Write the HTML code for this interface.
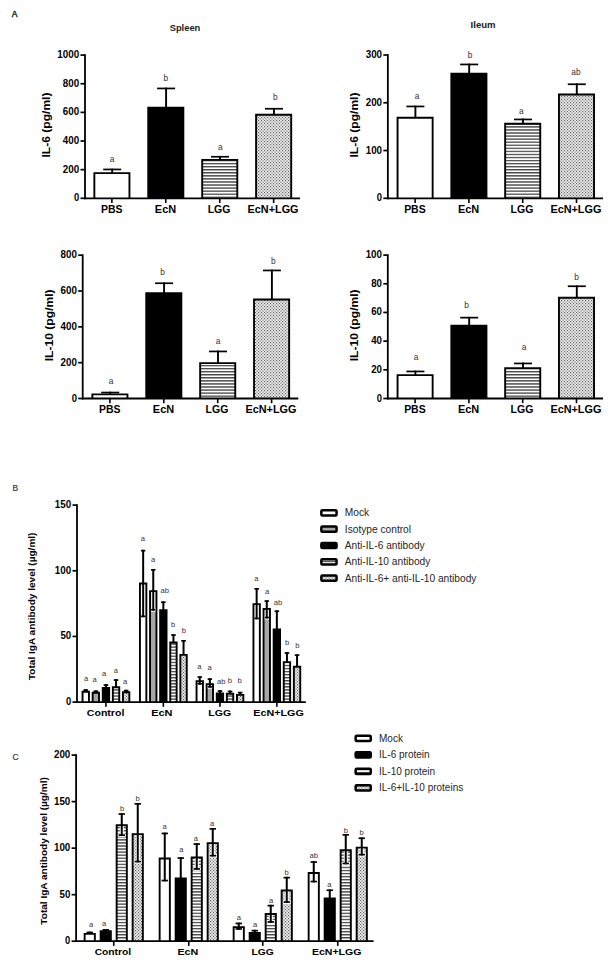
<!DOCTYPE html>
<html lang="en"><head><meta charset="utf-8"><title>Figure</title>
<style>html,body{margin:0;padding:0;background:#fff}svg{display:block}text{font-family:"Liberation Sans", Arial, sans-serif}</style>
</head><body>
<svg width="616" height="968" viewBox="0 0 616 968" font-family='"Liberation Sans", Arial, sans-serif'>
<defs>
<pattern id="stripe" width="3.06" height="3.06" patternUnits="userSpaceOnUse" y="0"><rect width="3.06" height="3.06" fill="#fff"/><rect y="0.9" width="3.06" height="1.1" fill="#222"/></pattern>
<pattern id="dots" width="3" height="3" patternUnits="userSpaceOnUse"><rect width="3" height="3" fill="#f0f0f0"/><rect x="0" y="0" width="1.15" height="1.15" fill="#5e5e5e"/><rect x="1.5" y="1.5" width="1.15" height="1.15" fill="#5e5e5e"/></pattern>
</defs>
<rect width="616" height="968" fill="#fff"/>
<text x="11.70" y="17.40" font-size="8.5" font-weight="normal" text-anchor="start" fill="#111" stroke="#111" stroke-width="0.35">A</text>
<text x="12.40" y="490.90" font-size="8.4" font-weight="normal" text-anchor="start" fill="#3a3a3a" stroke="#3a3a3a" stroke-width="0.2">B</text>
<text x="12.60" y="760.30" font-size="8.4" font-weight="normal" text-anchor="start" fill="#3a3a3a" stroke="#3a3a3a" stroke-width="0.2">C</text>
<text x="185.00" y="30.60" font-size="9.2" font-weight="bold" text-anchor="middle" fill="#222" textLength="30.60" lengthAdjust="spacingAndGlyphs" >Spleen</text>
<text x="483.10" y="27.90" font-size="9.2" font-weight="bold" text-anchor="middle" fill="#222" textLength="25.00" lengthAdjust="spacingAndGlyphs" >Ileum</text>
<line x1="112.20" y1="168.60" x2="112.20" y2="173.20" stroke="#000" stroke-width="1.9" stroke-linecap="butt"/>
<line x1="103.20" y1="169.45" x2="121.20" y2="169.45" stroke="#000" stroke-width="1.7" stroke-linecap="butt"/>
<path d="M94.35,198.30 V173.15 H129.45 V198.30" fill="#fff" stroke="#000" stroke-width="1.9"/>
<line x1="166.10" y1="87.60" x2="166.10" y2="107.80" stroke="#000" stroke-width="1.9" stroke-linecap="butt"/>
<line x1="157.10" y1="88.45" x2="175.10" y2="88.45" stroke="#000" stroke-width="1.7" stroke-linecap="butt"/>
<path d="M148.25,198.30 V107.75 H183.35 V198.30" fill="#000" stroke="#000" stroke-width="1.9"/>
<line x1="220.05" y1="155.90" x2="220.05" y2="159.90" stroke="#000" stroke-width="1.9" stroke-linecap="butt"/>
<line x1="211.05" y1="156.75" x2="229.05" y2="156.75" stroke="#000" stroke-width="1.7" stroke-linecap="butt"/>
<path d="M202.20,198.30 V159.85 H237.30 V198.30" fill="url(#stripe)" stroke="#000" stroke-width="1.9"/>
<line x1="273.95" y1="107.90" x2="273.95" y2="114.80" stroke="#000" stroke-width="1.9" stroke-linecap="butt"/>
<line x1="264.95" y1="108.75" x2="282.95" y2="108.75" stroke="#000" stroke-width="1.7" stroke-linecap="butt"/>
<path d="M256.10,198.30 V114.75 H291.20 V198.30" fill="url(#dots)" stroke="#000" stroke-width="1.9"/>
<text x="112.20" y="161.90" font-size="8.4" font-weight="normal" text-anchor="middle" fill="#3a3030" >a</text>
<text x="165.80" y="81.00" font-size="8.4" font-weight="normal" text-anchor="middle" fill="#3a3030" >b</text>
<text x="220.40" y="149.90" font-size="8.4" font-weight="normal" text-anchor="middle" fill="#3a3030" >a</text>
<text x="275.30" y="99.70" font-size="8.4" font-weight="normal" text-anchor="middle" fill="#3a3030" >b</text>
<line x1="85.00" y1="54.25" x2="85.00" y2="199.20" stroke="#000" stroke-width="1.8" stroke-linecap="butt"/>
<line x1="80.50" y1="198.30" x2="85.00" y2="198.30" stroke="#000" stroke-width="1.7" stroke-linecap="butt"/>
<text x="79.20" y="201.30" font-size="10.3" font-weight="bold" text-anchor="end" fill="#000" textLength="5.25" lengthAdjust="spacingAndGlyphs" >0</text>
<line x1="80.50" y1="169.66" x2="85.00" y2="169.66" stroke="#000" stroke-width="1.7" stroke-linecap="butt"/>
<text x="79.20" y="172.66" font-size="10.3" font-weight="bold" text-anchor="end" fill="#000" textLength="16.35" lengthAdjust="spacingAndGlyphs" >200</text>
<line x1="80.50" y1="141.02" x2="85.00" y2="141.02" stroke="#000" stroke-width="1.7" stroke-linecap="butt"/>
<text x="79.20" y="144.02" font-size="10.3" font-weight="bold" text-anchor="end" fill="#000" textLength="16.35" lengthAdjust="spacingAndGlyphs" >400</text>
<line x1="80.50" y1="112.38" x2="85.00" y2="112.38" stroke="#000" stroke-width="1.7" stroke-linecap="butt"/>
<text x="79.20" y="115.38" font-size="10.3" font-weight="bold" text-anchor="end" fill="#000" textLength="16.35" lengthAdjust="spacingAndGlyphs" >600</text>
<line x1="80.50" y1="83.74" x2="85.00" y2="83.74" stroke="#000" stroke-width="1.7" stroke-linecap="butt"/>
<text x="79.20" y="86.74" font-size="10.3" font-weight="bold" text-anchor="end" fill="#000" textLength="16.35" lengthAdjust="spacingAndGlyphs" >800</text>
<line x1="80.50" y1="55.10" x2="85.00" y2="55.10" stroke="#000" stroke-width="1.7" stroke-linecap="butt"/>
<text x="79.20" y="58.10" font-size="10.3" font-weight="bold" text-anchor="end" fill="#000" textLength="21.90" lengthAdjust="spacingAndGlyphs" >1000</text>
<line x1="84.10" y1="198.30" x2="300.00" y2="198.30" stroke="#000" stroke-width="1.8" stroke-linecap="butt"/>
<line x1="111.90" y1="198.30" x2="111.90" y2="203.00" stroke="#000" stroke-width="1.6" stroke-linecap="butt"/>
<text x="111.70" y="212.60" font-size="10" font-weight="bold" text-anchor="middle" fill="#000" textLength="21.50" lengthAdjust="spacingAndGlyphs" >PBS</text>
<line x1="165.80" y1="198.30" x2="165.80" y2="203.00" stroke="#000" stroke-width="1.6" stroke-linecap="butt"/>
<text x="165.50" y="212.60" font-size="10" font-weight="bold" text-anchor="middle" fill="#000" textLength="21.30" lengthAdjust="spacingAndGlyphs" >EcN</text>
<line x1="219.75" y1="198.30" x2="219.75" y2="203.00" stroke="#000" stroke-width="1.6" stroke-linecap="butt"/>
<text x="219.05" y="212.60" font-size="10" font-weight="bold" text-anchor="middle" fill="#000" textLength="22.80" lengthAdjust="spacingAndGlyphs" >LGG</text>
<line x1="273.65" y1="198.30" x2="273.65" y2="203.00" stroke="#000" stroke-width="1.6" stroke-linecap="butt"/>
<text x="273.05" y="212.60" font-size="10" font-weight="bold" text-anchor="middle" fill="#000" textLength="51.00" lengthAdjust="spacingAndGlyphs" >EcN+LGG</text>
<text x="50.30" y="125.00" font-size="11" font-weight="bold" text-anchor="middle" fill="#000" textLength="65.00" lengthAdjust="spacingAndGlyphs" transform="rotate(-90 50.30 125.00)" >IL-6 (pg/ml)</text>
<line x1="415.40" y1="105.60" x2="415.40" y2="117.80" stroke="#000" stroke-width="1.9" stroke-linecap="butt"/>
<line x1="406.40" y1="106.45" x2="424.40" y2="106.45" stroke="#000" stroke-width="1.7" stroke-linecap="butt"/>
<path d="M397.55,198.30 V117.75 H432.65 V198.30" fill="#fff" stroke="#000" stroke-width="1.9"/>
<line x1="469.20" y1="63.60" x2="469.20" y2="73.80" stroke="#000" stroke-width="1.9" stroke-linecap="butt"/>
<line x1="460.20" y1="64.45" x2="478.20" y2="64.45" stroke="#000" stroke-width="1.7" stroke-linecap="butt"/>
<path d="M451.35,198.30 V73.75 H486.45 V198.30" fill="#000" stroke="#000" stroke-width="1.9"/>
<line x1="523.00" y1="118.60" x2="523.00" y2="123.80" stroke="#000" stroke-width="1.9" stroke-linecap="butt"/>
<line x1="514.00" y1="119.45" x2="532.00" y2="119.45" stroke="#000" stroke-width="1.7" stroke-linecap="butt"/>
<path d="M505.15,198.30 V123.75 H540.25 V198.30" fill="url(#stripe)" stroke="#000" stroke-width="1.9"/>
<line x1="576.80" y1="83.40" x2="576.80" y2="94.60" stroke="#000" stroke-width="1.9" stroke-linecap="butt"/>
<line x1="567.80" y1="84.25" x2="585.80" y2="84.25" stroke="#000" stroke-width="1.7" stroke-linecap="butt"/>
<path d="M558.95,198.30 V94.55 H594.05 V198.30" fill="url(#dots)" stroke="#000" stroke-width="1.9"/>
<text x="417.20" y="98.50" font-size="8.4" font-weight="normal" text-anchor="middle" fill="#3a3030" >a</text>
<text x="470.10" y="57.60" font-size="8.4" font-weight="normal" text-anchor="middle" fill="#3a3030" >b</text>
<text x="521.30" y="113.90" font-size="8.4" font-weight="normal" text-anchor="middle" fill="#3a3030" >a</text>
<text x="575.90" y="75.30" font-size="8.4" font-weight="normal" text-anchor="middle" fill="#3a3030" >ab</text>
<line x1="387.85" y1="54.15" x2="387.85" y2="199.20" stroke="#000" stroke-width="1.8" stroke-linecap="butt"/>
<line x1="383.35" y1="198.30" x2="387.85" y2="198.30" stroke="#000" stroke-width="1.7" stroke-linecap="butt"/>
<text x="382.05" y="201.30" font-size="10.3" font-weight="bold" text-anchor="end" fill="#000" textLength="5.25" lengthAdjust="spacingAndGlyphs" >0</text>
<line x1="383.35" y1="150.53" x2="387.85" y2="150.53" stroke="#000" stroke-width="1.7" stroke-linecap="butt"/>
<text x="382.05" y="153.53" font-size="10.3" font-weight="bold" text-anchor="end" fill="#000" textLength="16.35" lengthAdjust="spacingAndGlyphs" >100</text>
<line x1="383.35" y1="102.77" x2="387.85" y2="102.77" stroke="#000" stroke-width="1.7" stroke-linecap="butt"/>
<text x="382.05" y="105.77" font-size="10.3" font-weight="bold" text-anchor="end" fill="#000" textLength="16.35" lengthAdjust="spacingAndGlyphs" >200</text>
<line x1="383.35" y1="55.00" x2="387.85" y2="55.00" stroke="#000" stroke-width="1.7" stroke-linecap="butt"/>
<text x="382.05" y="58.00" font-size="10.3" font-weight="bold" text-anchor="end" fill="#000" textLength="16.35" lengthAdjust="spacingAndGlyphs" >300</text>
<line x1="386.95" y1="198.30" x2="603.00" y2="198.30" stroke="#000" stroke-width="1.8" stroke-linecap="butt"/>
<line x1="415.10" y1="198.30" x2="415.10" y2="203.00" stroke="#000" stroke-width="1.6" stroke-linecap="butt"/>
<text x="414.90" y="212.60" font-size="10" font-weight="bold" text-anchor="middle" fill="#000" textLength="21.50" lengthAdjust="spacingAndGlyphs" >PBS</text>
<line x1="468.90" y1="198.30" x2="468.90" y2="203.00" stroke="#000" stroke-width="1.6" stroke-linecap="butt"/>
<text x="468.60" y="212.60" font-size="10" font-weight="bold" text-anchor="middle" fill="#000" textLength="21.30" lengthAdjust="spacingAndGlyphs" >EcN</text>
<line x1="522.70" y1="198.30" x2="522.70" y2="203.00" stroke="#000" stroke-width="1.6" stroke-linecap="butt"/>
<text x="522.00" y="212.60" font-size="10" font-weight="bold" text-anchor="middle" fill="#000" textLength="22.80" lengthAdjust="spacingAndGlyphs" >LGG</text>
<line x1="576.50" y1="198.30" x2="576.50" y2="203.00" stroke="#000" stroke-width="1.6" stroke-linecap="butt"/>
<text x="575.90" y="212.60" font-size="10" font-weight="bold" text-anchor="middle" fill="#000" textLength="51.00" lengthAdjust="spacingAndGlyphs" >EcN+LGG</text>
<text x="357.80" y="125.00" font-size="11" font-weight="bold" text-anchor="middle" fill="#000" textLength="65.00" lengthAdjust="spacingAndGlyphs" transform="rotate(-90 357.80 125.00)" >IL-6 (pg/ml)</text>
<line x1="110.20" y1="391.70" x2="110.20" y2="394.40" stroke="#000" stroke-width="1.9" stroke-linecap="butt"/>
<line x1="101.20" y1="392.55" x2="119.20" y2="392.55" stroke="#000" stroke-width="1.7" stroke-linecap="butt"/>
<path d="M92.35,398.50 V394.35 H127.45 V398.50" fill="#fff" stroke="#000" stroke-width="1.9"/>
<line x1="164.10" y1="282.40" x2="164.10" y2="293.30" stroke="#000" stroke-width="1.9" stroke-linecap="butt"/>
<line x1="155.10" y1="283.25" x2="173.10" y2="283.25" stroke="#000" stroke-width="1.7" stroke-linecap="butt"/>
<path d="M146.25,398.50 V293.25 H181.35 V398.50" fill="#000" stroke="#000" stroke-width="1.9"/>
<line x1="218.00" y1="350.60" x2="218.00" y2="363.20" stroke="#000" stroke-width="1.9" stroke-linecap="butt"/>
<line x1="209.00" y1="351.45" x2="227.00" y2="351.45" stroke="#000" stroke-width="1.7" stroke-linecap="butt"/>
<path d="M200.15,398.50 V363.15 H235.25 V398.50" fill="url(#stripe)" stroke="#000" stroke-width="1.9"/>
<line x1="271.90" y1="269.60" x2="271.90" y2="299.50" stroke="#000" stroke-width="1.9" stroke-linecap="butt"/>
<line x1="262.90" y1="270.45" x2="280.90" y2="270.45" stroke="#000" stroke-width="1.7" stroke-linecap="butt"/>
<path d="M254.05,398.50 V299.45 H289.15 V398.50" fill="url(#dots)" stroke="#000" stroke-width="1.9"/>
<text x="111.20" y="384.20" font-size="8.4" font-weight="normal" text-anchor="middle" fill="#3a3030" >a</text>
<text x="162.70" y="274.90" font-size="8.4" font-weight="normal" text-anchor="middle" fill="#3a3030" >b</text>
<text x="218.00" y="344.20" font-size="8.4" font-weight="normal" text-anchor="middle" fill="#3a3030" >a</text>
<text x="273.30" y="264.00" font-size="8.4" font-weight="normal" text-anchor="middle" fill="#3a3030" >b</text>
<line x1="82.70" y1="254.35" x2="82.70" y2="399.40" stroke="#000" stroke-width="1.8" stroke-linecap="butt"/>
<line x1="78.20" y1="398.50" x2="82.70" y2="398.50" stroke="#000" stroke-width="1.7" stroke-linecap="butt"/>
<text x="76.90" y="401.50" font-size="10.3" font-weight="bold" text-anchor="end" fill="#000" textLength="5.25" lengthAdjust="spacingAndGlyphs" >0</text>
<line x1="78.20" y1="362.68" x2="82.70" y2="362.68" stroke="#000" stroke-width="1.7" stroke-linecap="butt"/>
<text x="76.90" y="365.68" font-size="10.3" font-weight="bold" text-anchor="end" fill="#000" textLength="16.35" lengthAdjust="spacingAndGlyphs" >200</text>
<line x1="78.20" y1="326.85" x2="82.70" y2="326.85" stroke="#000" stroke-width="1.7" stroke-linecap="butt"/>
<text x="76.90" y="329.85" font-size="10.3" font-weight="bold" text-anchor="end" fill="#000" textLength="16.35" lengthAdjust="spacingAndGlyphs" >400</text>
<line x1="78.20" y1="291.02" x2="82.70" y2="291.02" stroke="#000" stroke-width="1.7" stroke-linecap="butt"/>
<text x="76.90" y="294.02" font-size="10.3" font-weight="bold" text-anchor="end" fill="#000" textLength="16.35" lengthAdjust="spacingAndGlyphs" >600</text>
<line x1="78.20" y1="255.20" x2="82.70" y2="255.20" stroke="#000" stroke-width="1.7" stroke-linecap="butt"/>
<text x="76.90" y="258.20" font-size="10.3" font-weight="bold" text-anchor="end" fill="#000" textLength="16.35" lengthAdjust="spacingAndGlyphs" >800</text>
<line x1="81.80" y1="398.50" x2="298.30" y2="398.50" stroke="#000" stroke-width="1.8" stroke-linecap="butt"/>
<line x1="109.90" y1="398.50" x2="109.90" y2="403.20" stroke="#000" stroke-width="1.6" stroke-linecap="butt"/>
<text x="109.70" y="412.80" font-size="10" font-weight="bold" text-anchor="middle" fill="#000" textLength="21.50" lengthAdjust="spacingAndGlyphs" >PBS</text>
<line x1="163.80" y1="398.50" x2="163.80" y2="403.20" stroke="#000" stroke-width="1.6" stroke-linecap="butt"/>
<text x="163.50" y="412.80" font-size="10" font-weight="bold" text-anchor="middle" fill="#000" textLength="21.30" lengthAdjust="spacingAndGlyphs" >EcN</text>
<line x1="217.70" y1="398.50" x2="217.70" y2="403.20" stroke="#000" stroke-width="1.6" stroke-linecap="butt"/>
<text x="217.00" y="412.80" font-size="10" font-weight="bold" text-anchor="middle" fill="#000" textLength="22.80" lengthAdjust="spacingAndGlyphs" >LGG</text>
<line x1="271.60" y1="398.50" x2="271.60" y2="403.20" stroke="#000" stroke-width="1.6" stroke-linecap="butt"/>
<text x="271.00" y="412.80" font-size="10" font-weight="bold" text-anchor="middle" fill="#000" textLength="51.00" lengthAdjust="spacingAndGlyphs" >EcN+LGG</text>
<text x="53.00" y="325.30" font-size="11" font-weight="bold" text-anchor="middle" fill="#000" textLength="71.90" lengthAdjust="spacingAndGlyphs" transform="rotate(-90 53.00 325.30)" >IL-10 (pg/ml)</text>
<line x1="415.40" y1="370.60" x2="415.40" y2="375.20" stroke="#000" stroke-width="1.9" stroke-linecap="butt"/>
<line x1="406.40" y1="371.45" x2="424.40" y2="371.45" stroke="#000" stroke-width="1.7" stroke-linecap="butt"/>
<path d="M397.55,398.50 V375.15 H432.65 V398.50" fill="#fff" stroke="#000" stroke-width="1.9"/>
<line x1="469.20" y1="316.80" x2="469.20" y2="325.80" stroke="#000" stroke-width="1.9" stroke-linecap="butt"/>
<line x1="460.20" y1="317.65" x2="478.20" y2="317.65" stroke="#000" stroke-width="1.7" stroke-linecap="butt"/>
<path d="M451.35,398.50 V325.75 H486.45 V398.50" fill="#000" stroke="#000" stroke-width="1.9"/>
<line x1="523.00" y1="362.60" x2="523.00" y2="368.20" stroke="#000" stroke-width="1.9" stroke-linecap="butt"/>
<line x1="514.00" y1="363.45" x2="532.00" y2="363.45" stroke="#000" stroke-width="1.7" stroke-linecap="butt"/>
<path d="M505.15,398.50 V368.15 H540.25 V398.50" fill="url(#stripe)" stroke="#000" stroke-width="1.9"/>
<line x1="576.80" y1="285.40" x2="576.80" y2="297.80" stroke="#000" stroke-width="1.9" stroke-linecap="butt"/>
<line x1="567.80" y1="286.25" x2="585.80" y2="286.25" stroke="#000" stroke-width="1.7" stroke-linecap="butt"/>
<path d="M558.95,398.50 V297.75 H594.05 V398.50" fill="url(#dots)" stroke="#000" stroke-width="1.9"/>
<text x="416.20" y="359.60" font-size="8.4" font-weight="normal" text-anchor="middle" fill="#3a3030" >a</text>
<text x="466.70" y="308.40" font-size="8.4" font-weight="normal" text-anchor="middle" fill="#3a3030" >b</text>
<text x="524.00" y="350.00" font-size="8.4" font-weight="normal" text-anchor="middle" fill="#3a3030" >a</text>
<text x="576.60" y="280.40" font-size="8.4" font-weight="normal" text-anchor="middle" fill="#3a3030" >b</text>
<line x1="387.80" y1="254.25" x2="387.80" y2="399.40" stroke="#000" stroke-width="1.8" stroke-linecap="butt"/>
<line x1="383.30" y1="398.50" x2="387.80" y2="398.50" stroke="#000" stroke-width="1.7" stroke-linecap="butt"/>
<text x="382.00" y="401.50" font-size="10.3" font-weight="bold" text-anchor="end" fill="#000" textLength="5.25" lengthAdjust="spacingAndGlyphs" >0</text>
<line x1="383.30" y1="369.82" x2="387.80" y2="369.82" stroke="#000" stroke-width="1.7" stroke-linecap="butt"/>
<text x="382.00" y="372.82" font-size="10.3" font-weight="bold" text-anchor="end" fill="#000" textLength="10.80" lengthAdjust="spacingAndGlyphs" >20</text>
<line x1="383.30" y1="341.14" x2="387.80" y2="341.14" stroke="#000" stroke-width="1.7" stroke-linecap="butt"/>
<text x="382.00" y="344.14" font-size="10.3" font-weight="bold" text-anchor="end" fill="#000" textLength="10.80" lengthAdjust="spacingAndGlyphs" >40</text>
<line x1="383.30" y1="312.46" x2="387.80" y2="312.46" stroke="#000" stroke-width="1.7" stroke-linecap="butt"/>
<text x="382.00" y="315.46" font-size="10.3" font-weight="bold" text-anchor="end" fill="#000" textLength="10.80" lengthAdjust="spacingAndGlyphs" >60</text>
<line x1="383.30" y1="283.78" x2="387.80" y2="283.78" stroke="#000" stroke-width="1.7" stroke-linecap="butt"/>
<text x="382.00" y="286.78" font-size="10.3" font-weight="bold" text-anchor="end" fill="#000" textLength="10.80" lengthAdjust="spacingAndGlyphs" >80</text>
<line x1="383.30" y1="255.10" x2="387.80" y2="255.10" stroke="#000" stroke-width="1.7" stroke-linecap="butt"/>
<text x="382.00" y="258.10" font-size="10.3" font-weight="bold" text-anchor="end" fill="#000" textLength="16.35" lengthAdjust="spacingAndGlyphs" >100</text>
<line x1="386.90" y1="398.50" x2="603.00" y2="398.50" stroke="#000" stroke-width="1.8" stroke-linecap="butt"/>
<line x1="415.10" y1="398.50" x2="415.10" y2="403.20" stroke="#000" stroke-width="1.6" stroke-linecap="butt"/>
<text x="414.90" y="412.80" font-size="10" font-weight="bold" text-anchor="middle" fill="#000" textLength="21.50" lengthAdjust="spacingAndGlyphs" >PBS</text>
<line x1="468.90" y1="398.50" x2="468.90" y2="403.20" stroke="#000" stroke-width="1.6" stroke-linecap="butt"/>
<text x="468.60" y="412.80" font-size="10" font-weight="bold" text-anchor="middle" fill="#000" textLength="21.30" lengthAdjust="spacingAndGlyphs" >EcN</text>
<line x1="522.70" y1="398.50" x2="522.70" y2="403.20" stroke="#000" stroke-width="1.6" stroke-linecap="butt"/>
<text x="522.00" y="412.80" font-size="10" font-weight="bold" text-anchor="middle" fill="#000" textLength="22.80" lengthAdjust="spacingAndGlyphs" >LGG</text>
<line x1="576.50" y1="398.50" x2="576.50" y2="403.20" stroke="#000" stroke-width="1.6" stroke-linecap="butt"/>
<text x="575.90" y="412.80" font-size="10" font-weight="bold" text-anchor="middle" fill="#000" textLength="51.00" lengthAdjust="spacingAndGlyphs" >EcN+LGG</text>
<text x="358.00" y="325.30" font-size="11" font-weight="bold" text-anchor="middle" fill="#000" textLength="71.90" lengthAdjust="spacingAndGlyphs" transform="rotate(-90 358.00 325.30)" >IL-10 (pg/ml)</text>
<line x1="85.75" y1="689.20" x2="85.75" y2="691.80" stroke="#000" stroke-width="2.0" stroke-linecap="butt"/>
<line x1="83.45" y1="690.05" x2="88.05" y2="690.05" stroke="#000" stroke-width="1.7" stroke-linecap="butt"/>
<path d="M82.55,702.10 V691.75 H88.95 V702.10" fill="#fff" stroke="#000" stroke-width="1.9"/>
<text x="86.00" y="681.40" font-size="7.6" font-weight="normal" text-anchor="middle" fill="#3a3030" >a</text>
<line x1="95.85" y1="690.40" x2="95.85" y2="692.80" stroke="#000" stroke-width="2.0" stroke-linecap="butt"/>
<line x1="93.55" y1="691.25" x2="98.15" y2="691.25" stroke="#000" stroke-width="1.7" stroke-linecap="butt"/>
<path d="M92.65,702.10 V692.75 H99.05 V702.10" fill="#a6a6a6" stroke="#000" stroke-width="1.9"/>
<text x="94.60" y="681.75" font-size="7.6" font-weight="normal" text-anchor="middle" fill="#3a3030" >a</text>
<line x1="105.95" y1="684.20" x2="105.95" y2="687.90" stroke="#000" stroke-width="2.0" stroke-linecap="butt"/>
<line x1="103.65" y1="685.05" x2="108.25" y2="685.05" stroke="#000" stroke-width="1.7" stroke-linecap="butt"/>
<path d="M102.75,702.10 V687.85 H109.15 V702.10" fill="#000" stroke="#000" stroke-width="1.9"/>
<text x="104.00" y="676.40" font-size="7.6" font-weight="normal" text-anchor="middle" fill="#3a3030" >a</text>
<line x1="116.05" y1="679.20" x2="116.05" y2="687.30" stroke="#000" stroke-width="2.0" stroke-linecap="butt"/>
<line x1="113.75" y1="680.05" x2="118.35" y2="680.05" stroke="#000" stroke-width="1.7" stroke-linecap="butt"/>
<path d="M112.85,702.10 V687.25 H119.25 V702.10" fill="url(#stripe)" stroke="#000" stroke-width="1.9"/>
<text x="115.90" y="673.00" font-size="7.6" font-weight="normal" text-anchor="middle" fill="#3a3030" >a</text>
<line x1="126.15" y1="689.80" x2="126.15" y2="692.30" stroke="#000" stroke-width="2.0" stroke-linecap="butt"/>
<line x1="123.85" y1="690.65" x2="128.45" y2="690.65" stroke="#000" stroke-width="1.7" stroke-linecap="butt"/>
<path d="M122.95,702.10 V692.25 H129.35 V702.10" fill="url(#dots)" stroke="#000" stroke-width="1.9"/>
<text x="125.10" y="683.90" font-size="7.6" font-weight="normal" text-anchor="middle" fill="#3a3030" >a</text>
<path d="M139.95,702.10 V583.55 H146.35 V702.10" fill="#fff" stroke="#000" stroke-width="1.9"/>
<line x1="143.15" y1="549.80" x2="143.15" y2="617.20" stroke="#000" stroke-width="2.0" stroke-linecap="butt"/>
<line x1="140.95" y1="550.65" x2="145.35" y2="550.65" stroke="#000" stroke-width="1.7" stroke-linecap="butt"/>
<line x1="140.95" y1="616.35" x2="145.35" y2="616.35" stroke="#000" stroke-width="1.7" stroke-linecap="butt"/>
<text x="142.80" y="540.70" font-size="7.6" font-weight="normal" text-anchor="middle" fill="#3a3030" >a</text>
<path d="M150.05,702.10 V591.15 H156.45 V702.10" fill="#a6a6a6" stroke="#000" stroke-width="1.9"/>
<line x1="153.25" y1="592.00" x2="153.25" y2="611.50" stroke="#fff" stroke-width="4.0" stroke-linecap="butt"/>
<line x1="151.10" y1="609.75" x2="155.40" y2="609.75" stroke="#fff" stroke-width="3.5" stroke-linecap="butt"/>
<line x1="153.25" y1="569.00" x2="153.25" y2="610.60" stroke="#000" stroke-width="2.0" stroke-linecap="butt"/>
<line x1="151.05" y1="569.85" x2="155.45" y2="569.85" stroke="#000" stroke-width="1.7" stroke-linecap="butt"/>
<line x1="151.05" y1="609.75" x2="155.45" y2="609.75" stroke="#000" stroke-width="1.7" stroke-linecap="butt"/>
<text x="153.10" y="562.20" font-size="7.6" font-weight="normal" text-anchor="middle" fill="#3a3030" >a</text>
<line x1="163.35" y1="601.40" x2="163.35" y2="610.30" stroke="#000" stroke-width="2.0" stroke-linecap="butt"/>
<line x1="161.05" y1="602.25" x2="165.65" y2="602.25" stroke="#000" stroke-width="1.7" stroke-linecap="butt"/>
<path d="M160.15,702.10 V610.25 H166.55 V702.10" fill="#000" stroke="#000" stroke-width="1.9"/>
<text x="164.70" y="593.20" font-size="7.6" font-weight="normal" text-anchor="middle" fill="#3a3030" >ab</text>
<line x1="173.45" y1="634.20" x2="173.45" y2="642.50" stroke="#000" stroke-width="2.0" stroke-linecap="butt"/>
<line x1="171.15" y1="635.05" x2="175.75" y2="635.05" stroke="#000" stroke-width="1.7" stroke-linecap="butt"/>
<path d="M170.25,702.10 V642.45 H176.65 V702.10" fill="url(#stripe)" stroke="#000" stroke-width="1.9"/>
<text x="173.00" y="627.40" font-size="7.6" font-weight="normal" text-anchor="middle" fill="#3a3030" >b</text>
<line x1="183.55" y1="640.00" x2="183.55" y2="654.90" stroke="#000" stroke-width="2.0" stroke-linecap="butt"/>
<line x1="181.25" y1="640.85" x2="185.85" y2="640.85" stroke="#000" stroke-width="1.7" stroke-linecap="butt"/>
<path d="M180.35,702.10 V654.85 H186.75 V702.10" fill="url(#dots)" stroke="#000" stroke-width="1.9"/>
<text x="183.80" y="632.80" font-size="7.6" font-weight="normal" text-anchor="middle" fill="#3a3030" >b</text>
<path d="M196.55,702.10 V681.15 H202.95 V702.10" fill="#fff" stroke="#000" stroke-width="1.9"/>
<line x1="199.75" y1="676.20" x2="199.75" y2="684.60" stroke="#000" stroke-width="2.0" stroke-linecap="butt"/>
<line x1="197.55" y1="677.05" x2="201.95" y2="677.05" stroke="#000" stroke-width="1.7" stroke-linecap="butt"/>
<line x1="197.55" y1="683.75" x2="201.95" y2="683.75" stroke="#000" stroke-width="1.7" stroke-linecap="butt"/>
<text x="199.40" y="669.30" font-size="7.6" font-weight="normal" text-anchor="middle" fill="#3a3030" >a</text>
<path d="M206.65,702.10 V684.25 H213.05 V702.10" fill="#a6a6a6" stroke="#000" stroke-width="1.9"/>
<line x1="209.85" y1="685.10" x2="209.85" y2="688.50" stroke="#fff" stroke-width="4.0" stroke-linecap="butt"/>
<line x1="207.70" y1="686.75" x2="212.00" y2="686.75" stroke="#fff" stroke-width="3.5" stroke-linecap="butt"/>
<line x1="209.85" y1="678.30" x2="209.85" y2="687.60" stroke="#000" stroke-width="2.0" stroke-linecap="butt"/>
<line x1="207.65" y1="679.15" x2="212.05" y2="679.15" stroke="#000" stroke-width="1.7" stroke-linecap="butt"/>
<line x1="207.65" y1="686.75" x2="212.05" y2="686.75" stroke="#000" stroke-width="1.7" stroke-linecap="butt"/>
<text x="209.60" y="669.80" font-size="7.6" font-weight="normal" text-anchor="middle" fill="#3a3030" >a</text>
<line x1="219.95" y1="690.20" x2="219.95" y2="693.40" stroke="#000" stroke-width="2.0" stroke-linecap="butt"/>
<line x1="217.65" y1="691.05" x2="222.25" y2="691.05" stroke="#000" stroke-width="1.7" stroke-linecap="butt"/>
<path d="M216.75,702.10 V693.35 H223.15 V702.10" fill="#000" stroke="#000" stroke-width="1.9"/>
<text x="221.20" y="684.00" font-size="7.6" font-weight="normal" text-anchor="middle" fill="#3a3030" >ab</text>
<line x1="230.05" y1="690.60" x2="230.05" y2="693.80" stroke="#000" stroke-width="2.0" stroke-linecap="butt"/>
<line x1="227.75" y1="691.45" x2="232.35" y2="691.45" stroke="#000" stroke-width="1.7" stroke-linecap="butt"/>
<path d="M226.85,702.10 V693.75 H233.25 V702.10" fill="url(#stripe)" stroke="#000" stroke-width="1.9"/>
<text x="229.80" y="683.25" font-size="7.6" font-weight="normal" text-anchor="middle" fill="#3a3030" >b</text>
<line x1="240.15" y1="691.80" x2="240.15" y2="694.90" stroke="#000" stroke-width="2.0" stroke-linecap="butt"/>
<line x1="237.85" y1="692.65" x2="242.45" y2="692.65" stroke="#000" stroke-width="1.7" stroke-linecap="butt"/>
<path d="M236.95,702.10 V694.85 H243.35 V702.10" fill="url(#dots)" stroke="#000" stroke-width="1.9"/>
<text x="239.70" y="683.25" font-size="7.6" font-weight="normal" text-anchor="middle" fill="#3a3030" >b</text>
<path d="M253.45,702.10 V604.15 H259.85 V702.10" fill="#fff" stroke="#000" stroke-width="1.9"/>
<line x1="256.65" y1="588.00" x2="256.65" y2="619.30" stroke="#000" stroke-width="2.0" stroke-linecap="butt"/>
<line x1="254.45" y1="588.85" x2="258.85" y2="588.85" stroke="#000" stroke-width="1.7" stroke-linecap="butt"/>
<line x1="254.45" y1="618.45" x2="258.85" y2="618.45" stroke="#000" stroke-width="1.7" stroke-linecap="butt"/>
<text x="256.40" y="581.10" font-size="7.6" font-weight="normal" text-anchor="middle" fill="#3a3030" >a</text>
<path d="M263.55,702.10 V608.95 H269.95 V702.10" fill="#a6a6a6" stroke="#000" stroke-width="1.9"/>
<line x1="266.75" y1="609.80" x2="266.75" y2="619.30" stroke="#fff" stroke-width="4.0" stroke-linecap="butt"/>
<line x1="264.60" y1="617.55" x2="268.90" y2="617.55" stroke="#fff" stroke-width="3.5" stroke-linecap="butt"/>
<line x1="266.75" y1="600.30" x2="266.75" y2="618.40" stroke="#000" stroke-width="2.0" stroke-linecap="butt"/>
<line x1="264.55" y1="601.15" x2="268.95" y2="601.15" stroke="#000" stroke-width="1.7" stroke-linecap="butt"/>
<line x1="264.55" y1="617.55" x2="268.95" y2="617.55" stroke="#000" stroke-width="1.7" stroke-linecap="butt"/>
<text x="267.20" y="593.90" font-size="7.6" font-weight="normal" text-anchor="middle" fill="#3a3030" >a</text>
<line x1="276.85" y1="610.40" x2="276.85" y2="629.60" stroke="#000" stroke-width="2.0" stroke-linecap="butt"/>
<line x1="274.55" y1="611.25" x2="279.15" y2="611.25" stroke="#000" stroke-width="1.7" stroke-linecap="butt"/>
<path d="M273.65,702.10 V629.55 H280.05 V702.10" fill="#000" stroke="#000" stroke-width="1.9"/>
<text x="278.00" y="605.00" font-size="7.6" font-weight="normal" text-anchor="middle" fill="#3a3030" >ab</text>
<line x1="286.95" y1="652.20" x2="286.95" y2="662.20" stroke="#000" stroke-width="2.0" stroke-linecap="butt"/>
<line x1="284.65" y1="653.05" x2="289.25" y2="653.05" stroke="#000" stroke-width="1.7" stroke-linecap="butt"/>
<path d="M283.75,702.10 V662.15 H290.15 V702.10" fill="url(#stripe)" stroke="#000" stroke-width="1.9"/>
<text x="287.00" y="645.30" font-size="7.6" font-weight="normal" text-anchor="middle" fill="#3a3030" >b</text>
<line x1="297.05" y1="654.30" x2="297.05" y2="666.80" stroke="#000" stroke-width="2.0" stroke-linecap="butt"/>
<line x1="294.75" y1="655.15" x2="299.35" y2="655.15" stroke="#000" stroke-width="1.7" stroke-linecap="butt"/>
<path d="M293.85,702.10 V666.75 H300.25 V702.10" fill="url(#dots)" stroke="#000" stroke-width="1.9"/>
<text x="297.30" y="647.60" font-size="7.6" font-weight="normal" text-anchor="middle" fill="#3a3030" >b</text>
<line x1="77.00" y1="504.25" x2="77.00" y2="703.00" stroke="#000" stroke-width="1.8" stroke-linecap="butt"/>
<line x1="72.50" y1="702.10" x2="77.00" y2="702.10" stroke="#000" stroke-width="1.7" stroke-linecap="butt"/>
<text x="71.20" y="705.10" font-size="10.3" font-weight="bold" text-anchor="end" fill="#000" textLength="5.25" lengthAdjust="spacingAndGlyphs" >0</text>
<line x1="72.50" y1="636.43" x2="77.00" y2="636.43" stroke="#000" stroke-width="1.7" stroke-linecap="butt"/>
<text x="71.20" y="639.43" font-size="10.3" font-weight="bold" text-anchor="end" fill="#000" textLength="10.80" lengthAdjust="spacingAndGlyphs" >50</text>
<line x1="72.50" y1="570.77" x2="77.00" y2="570.77" stroke="#000" stroke-width="1.7" stroke-linecap="butt"/>
<text x="71.20" y="573.77" font-size="10.3" font-weight="bold" text-anchor="end" fill="#000" textLength="16.35" lengthAdjust="spacingAndGlyphs" >100</text>
<line x1="72.50" y1="505.10" x2="77.00" y2="505.10" stroke="#000" stroke-width="1.7" stroke-linecap="butt"/>
<text x="71.20" y="508.10" font-size="10.3" font-weight="bold" text-anchor="end" fill="#000" textLength="16.35" lengthAdjust="spacingAndGlyphs" >150</text>
<line x1="76.10" y1="702.10" x2="305.80" y2="702.10" stroke="#000" stroke-width="1.8" stroke-linecap="butt"/>
<line x1="105.95" y1="702.10" x2="105.95" y2="706.80" stroke="#000" stroke-width="1.6" stroke-linecap="butt"/>
<text x="105.60" y="715.70" font-size="9.6" font-weight="bold" text-anchor="middle" fill="#000" textLength="37.50" lengthAdjust="spacingAndGlyphs" >Control</text>
<line x1="163.35" y1="702.10" x2="163.35" y2="706.80" stroke="#000" stroke-width="1.6" stroke-linecap="butt"/>
<text x="161.80" y="715.70" font-size="9.6" font-weight="bold" text-anchor="middle" fill="#000" textLength="21.30" lengthAdjust="spacingAndGlyphs" >EcN</text>
<line x1="219.95" y1="702.10" x2="219.95" y2="706.80" stroke="#000" stroke-width="1.6" stroke-linecap="butt"/>
<text x="219.70" y="715.70" font-size="9.6" font-weight="bold" text-anchor="middle" fill="#000" textLength="22.80" lengthAdjust="spacingAndGlyphs" >LGG</text>
<line x1="276.85" y1="702.10" x2="276.85" y2="706.80" stroke="#000" stroke-width="1.6" stroke-linecap="butt"/>
<text x="278.60" y="715.70" font-size="9.6" font-weight="bold" text-anchor="middle" fill="#000" textLength="50.50" lengthAdjust="spacingAndGlyphs" >EcN+LGG</text>
<text x="34.90" y="606.30" font-size="9.8" font-weight="bold" text-anchor="middle" fill="#000" textLength="147.50" lengthAdjust="spacingAndGlyphs" transform="rotate(-90 34.90 606.30)" >Total IgA antibody level (µg/ml)</text>
<rect x="321.35" y="510.20" width="15.20" height="5.20" rx="1" fill="#fff" stroke="#000" stroke-width="2.5"/>
<text x="344.80" y="516.30" font-size="10.2" font-weight="normal" text-anchor="start" fill="#262626" >Mock</text>
<rect x="321.35" y="526.55" width="15.20" height="5.20" rx="1" fill="#a6a6a6" stroke="#000" stroke-width="2.5"/>
<text x="344.80" y="532.65" font-size="10.2" font-weight="normal" text-anchor="start" fill="#262626" >Isotype control</text>
<rect x="321.35" y="542.90" width="15.20" height="5.20" rx="1" fill="#000" stroke="#000" stroke-width="2.5"/>
<text x="344.80" y="549.00" font-size="10.2" font-weight="normal" text-anchor="start" fill="#262626" >Anti-IL-6 antibody</text>
<rect x="321.35" y="559.25" width="15.20" height="5.20" rx="1" fill="url(#stripe)" stroke="#000" stroke-width="2.5"/>
<text x="344.80" y="565.35" font-size="10.2" font-weight="normal" text-anchor="start" fill="#262626" >Anti-IL-10 antibody</text>
<rect x="321.35" y="575.60" width="15.20" height="5.20" rx="1" fill="url(#dots)" stroke="#000" stroke-width="2.5"/>
<text x="344.80" y="581.70" font-size="10.2" font-weight="normal" text-anchor="start" fill="#262626" >Anti-IL-6+ anti-IL-10 antibody</text>
<line x1="89.75" y1="931.60" x2="89.75" y2="933.90" stroke="#000" stroke-width="2.0" stroke-linecap="butt"/>
<line x1="86.55" y1="932.45" x2="92.95" y2="932.45" stroke="#000" stroke-width="1.7" stroke-linecap="butt"/>
<path d="M84.65,941.20 V933.85 H94.85 V941.20" fill="#fff" stroke="#000" stroke-width="1.9"/>
<text x="91.20" y="926.80" font-size="7.6" font-weight="normal" text-anchor="middle" fill="#3a3030" >a</text>
<line x1="105.75" y1="929.00" x2="105.75" y2="931.30" stroke="#000" stroke-width="2.0" stroke-linecap="butt"/>
<line x1="102.55" y1="929.85" x2="108.95" y2="929.85" stroke="#000" stroke-width="1.7" stroke-linecap="butt"/>
<path d="M100.65,941.20 V931.25 H110.85 V941.20" fill="#000" stroke="#000" stroke-width="1.9"/>
<text x="104.00" y="926.00" font-size="7.6" font-weight="normal" text-anchor="middle" fill="#3a3030" >a</text>
<path d="M116.65,941.20 V825.25 H126.85 V941.20" fill="url(#stripe)" stroke="#000" stroke-width="1.9"/>
<line x1="121.75" y1="826.10" x2="121.75" y2="836.90" stroke="#fff" stroke-width="4.0" stroke-linecap="butt"/>
<line x1="117.90" y1="835.15" x2="125.60" y2="835.15" stroke="#fff" stroke-width="3.5" stroke-linecap="butt"/>
<line x1="121.75" y1="813.20" x2="121.75" y2="836.00" stroke="#000" stroke-width="2.0" stroke-linecap="butt"/>
<line x1="118.55" y1="814.05" x2="124.95" y2="814.05" stroke="#000" stroke-width="1.7" stroke-linecap="butt"/>
<line x1="118.55" y1="835.15" x2="124.95" y2="835.15" stroke="#000" stroke-width="1.7" stroke-linecap="butt"/>
<text x="122.10" y="810.70" font-size="7.6" font-weight="normal" text-anchor="middle" fill="#3a3030" >b</text>
<path d="M132.65,941.20 V834.15 H142.85 V941.20" fill="url(#dots)" stroke="#000" stroke-width="1.9"/>
<line x1="137.75" y1="835.00" x2="137.75" y2="863.30" stroke="#fff" stroke-width="4.0" stroke-linecap="butt"/>
<line x1="133.90" y1="861.55" x2="141.60" y2="861.55" stroke="#fff" stroke-width="3.5" stroke-linecap="butt"/>
<line x1="137.75" y1="803.00" x2="137.75" y2="862.40" stroke="#000" stroke-width="2.0" stroke-linecap="butt"/>
<line x1="134.55" y1="803.85" x2="140.95" y2="803.85" stroke="#000" stroke-width="1.7" stroke-linecap="butt"/>
<line x1="134.55" y1="861.55" x2="140.95" y2="861.55" stroke="#000" stroke-width="1.7" stroke-linecap="butt"/>
<text x="137.60" y="801.30" font-size="7.6" font-weight="normal" text-anchor="middle" fill="#3a3030" >b</text>
<path d="M159.65,941.20 V858.55 H169.85 V941.20" fill="#fff" stroke="#000" stroke-width="1.9"/>
<line x1="164.75" y1="832.60" x2="164.75" y2="881.40" stroke="#000" stroke-width="2.0" stroke-linecap="butt"/>
<line x1="161.55" y1="833.45" x2="167.95" y2="833.45" stroke="#000" stroke-width="1.7" stroke-linecap="butt"/>
<line x1="161.55" y1="880.55" x2="167.95" y2="880.55" stroke="#000" stroke-width="1.7" stroke-linecap="butt"/>
<text x="164.50" y="829.30" font-size="7.6" font-weight="normal" text-anchor="middle" fill="#3a3030" >a</text>
<line x1="180.75" y1="857.20" x2="180.75" y2="878.50" stroke="#000" stroke-width="2.0" stroke-linecap="butt"/>
<line x1="177.55" y1="858.05" x2="183.95" y2="858.05" stroke="#000" stroke-width="1.7" stroke-linecap="butt"/>
<path d="M175.65,941.20 V878.45 H185.85 V941.20" fill="#000" stroke="#000" stroke-width="1.9"/>
<text x="181.30" y="852.10" font-size="7.6" font-weight="normal" text-anchor="middle" fill="#3a3030" >a</text>
<path d="M191.65,941.20 V857.55 H201.85 V941.20" fill="url(#stripe)" stroke="#000" stroke-width="1.9"/>
<line x1="196.75" y1="858.40" x2="196.75" y2="870.70" stroke="#fff" stroke-width="4.0" stroke-linecap="butt"/>
<line x1="192.90" y1="868.95" x2="200.60" y2="868.95" stroke="#fff" stroke-width="3.5" stroke-linecap="butt"/>
<line x1="196.75" y1="843.20" x2="196.75" y2="869.80" stroke="#000" stroke-width="2.0" stroke-linecap="butt"/>
<line x1="193.55" y1="844.05" x2="199.95" y2="844.05" stroke="#000" stroke-width="1.7" stroke-linecap="butt"/>
<line x1="193.55" y1="868.95" x2="199.95" y2="868.95" stroke="#000" stroke-width="1.7" stroke-linecap="butt"/>
<text x="195.80" y="840.90" font-size="7.6" font-weight="normal" text-anchor="middle" fill="#3a3030" >a</text>
<path d="M207.65,941.20 V843.15 H217.85 V941.20" fill="url(#dots)" stroke="#000" stroke-width="1.9"/>
<line x1="212.75" y1="844.00" x2="212.75" y2="857.40" stroke="#fff" stroke-width="4.0" stroke-linecap="butt"/>
<line x1="208.90" y1="855.65" x2="216.60" y2="855.65" stroke="#fff" stroke-width="3.5" stroke-linecap="butt"/>
<line x1="212.75" y1="828.00" x2="212.75" y2="856.50" stroke="#000" stroke-width="2.0" stroke-linecap="butt"/>
<line x1="209.55" y1="828.85" x2="215.95" y2="828.85" stroke="#000" stroke-width="1.7" stroke-linecap="butt"/>
<line x1="209.55" y1="855.65" x2="215.95" y2="855.65" stroke="#000" stroke-width="1.7" stroke-linecap="butt"/>
<text x="212.20" y="826.00" font-size="7.6" font-weight="normal" text-anchor="middle" fill="#3a3030" >a</text>
<path d="M233.65,941.20 V927.15 H243.85 V941.20" fill="#fff" stroke="#000" stroke-width="1.9"/>
<line x1="238.75" y1="922.60" x2="238.75" y2="929.80" stroke="#000" stroke-width="2.0" stroke-linecap="butt"/>
<line x1="235.55" y1="923.45" x2="241.95" y2="923.45" stroke="#000" stroke-width="1.7" stroke-linecap="butt"/>
<line x1="235.55" y1="928.95" x2="241.95" y2="928.95" stroke="#000" stroke-width="1.7" stroke-linecap="butt"/>
<text x="238.80" y="920.10" font-size="7.6" font-weight="normal" text-anchor="middle" fill="#3a3030" >a</text>
<line x1="254.75" y1="929.80" x2="254.75" y2="933.00" stroke="#000" stroke-width="2.0" stroke-linecap="butt"/>
<line x1="251.55" y1="930.65" x2="257.95" y2="930.65" stroke="#000" stroke-width="1.7" stroke-linecap="butt"/>
<path d="M249.65,941.20 V932.95 H259.85 V941.20" fill="#000" stroke="#000" stroke-width="1.9"/>
<text x="255.20" y="927.20" font-size="7.6" font-weight="normal" text-anchor="middle" fill="#3a3030" >a</text>
<path d="M265.65,941.20 V913.95 H275.85 V941.20" fill="url(#stripe)" stroke="#000" stroke-width="1.9"/>
<line x1="270.75" y1="914.80" x2="270.75" y2="923.70" stroke="#fff" stroke-width="4.0" stroke-linecap="butt"/>
<line x1="266.90" y1="921.95" x2="274.60" y2="921.95" stroke="#fff" stroke-width="3.5" stroke-linecap="butt"/>
<line x1="270.75" y1="904.80" x2="270.75" y2="922.80" stroke="#000" stroke-width="2.0" stroke-linecap="butt"/>
<line x1="267.55" y1="905.65" x2="273.95" y2="905.65" stroke="#000" stroke-width="1.7" stroke-linecap="butt"/>
<line x1="267.55" y1="921.95" x2="273.95" y2="921.95" stroke="#000" stroke-width="1.7" stroke-linecap="butt"/>
<text x="271.00" y="903.00" font-size="7.6" font-weight="normal" text-anchor="middle" fill="#3a3030" >a</text>
<path d="M281.65,941.20 V890.55 H291.85 V941.20" fill="url(#dots)" stroke="#000" stroke-width="1.9"/>
<line x1="286.75" y1="891.40" x2="286.75" y2="903.80" stroke="#fff" stroke-width="4.0" stroke-linecap="butt"/>
<line x1="282.90" y1="902.05" x2="290.60" y2="902.05" stroke="#fff" stroke-width="3.5" stroke-linecap="butt"/>
<line x1="286.75" y1="876.80" x2="286.75" y2="902.90" stroke="#000" stroke-width="2.0" stroke-linecap="butt"/>
<line x1="283.55" y1="877.65" x2="289.95" y2="877.65" stroke="#000" stroke-width="1.7" stroke-linecap="butt"/>
<line x1="283.55" y1="902.05" x2="289.95" y2="902.05" stroke="#000" stroke-width="1.7" stroke-linecap="butt"/>
<text x="286.70" y="875.30" font-size="7.6" font-weight="normal" text-anchor="middle" fill="#3a3030" >b</text>
<path d="M308.65,941.20 V873.05 H318.85 V941.20" fill="#fff" stroke="#000" stroke-width="1.9"/>
<line x1="313.75" y1="861.20" x2="313.75" y2="882.40" stroke="#000" stroke-width="2.0" stroke-linecap="butt"/>
<line x1="310.55" y1="862.05" x2="316.95" y2="862.05" stroke="#000" stroke-width="1.7" stroke-linecap="butt"/>
<line x1="310.55" y1="881.55" x2="316.95" y2="881.55" stroke="#000" stroke-width="1.7" stroke-linecap="butt"/>
<text x="313.80" y="857.70" font-size="7.6" font-weight="normal" text-anchor="middle" fill="#3a3030" >ab</text>
<line x1="329.75" y1="889.40" x2="329.75" y2="898.50" stroke="#000" stroke-width="2.0" stroke-linecap="butt"/>
<line x1="326.55" y1="890.25" x2="332.95" y2="890.25" stroke="#000" stroke-width="1.7" stroke-linecap="butt"/>
<path d="M324.65,941.20 V898.45 H334.85 V941.20" fill="#000" stroke="#000" stroke-width="1.9"/>
<text x="329.40" y="887.40" font-size="7.6" font-weight="normal" text-anchor="middle" fill="#3a3030" >a</text>
<path d="M340.65,941.20 V850.25 H350.85 V941.20" fill="url(#stripe)" stroke="#000" stroke-width="1.9"/>
<line x1="345.75" y1="851.10" x2="345.75" y2="865.20" stroke="#fff" stroke-width="4.0" stroke-linecap="butt"/>
<line x1="341.90" y1="863.45" x2="349.60" y2="863.45" stroke="#fff" stroke-width="3.5" stroke-linecap="butt"/>
<line x1="345.75" y1="834.00" x2="345.75" y2="864.30" stroke="#000" stroke-width="2.0" stroke-linecap="butt"/>
<line x1="342.55" y1="834.85" x2="348.95" y2="834.85" stroke="#000" stroke-width="1.7" stroke-linecap="butt"/>
<line x1="342.55" y1="863.45" x2="348.95" y2="863.45" stroke="#000" stroke-width="1.7" stroke-linecap="butt"/>
<text x="345.80" y="832.60" font-size="7.6" font-weight="normal" text-anchor="middle" fill="#3a3030" >b</text>
<path d="M356.65,941.20 V847.65 H366.85 V941.20" fill="url(#dots)" stroke="#000" stroke-width="1.9"/>
<line x1="361.75" y1="848.50" x2="361.75" y2="856.40" stroke="#fff" stroke-width="4.0" stroke-linecap="butt"/>
<line x1="357.90" y1="854.65" x2="365.60" y2="854.65" stroke="#fff" stroke-width="3.5" stroke-linecap="butt"/>
<line x1="361.75" y1="837.40" x2="361.75" y2="855.50" stroke="#000" stroke-width="2.0" stroke-linecap="butt"/>
<line x1="358.55" y1="838.25" x2="364.95" y2="838.25" stroke="#000" stroke-width="1.7" stroke-linecap="butt"/>
<line x1="358.55" y1="854.65" x2="364.95" y2="854.65" stroke="#000" stroke-width="1.7" stroke-linecap="butt"/>
<text x="361.60" y="834.60" font-size="7.6" font-weight="normal" text-anchor="middle" fill="#3a3030" >b</text>
<line x1="76.10" y1="754.25" x2="76.10" y2="942.10" stroke="#000" stroke-width="1.8" stroke-linecap="butt"/>
<line x1="71.60" y1="941.20" x2="76.10" y2="941.20" stroke="#000" stroke-width="1.7" stroke-linecap="butt"/>
<text x="70.30" y="944.20" font-size="10.3" font-weight="bold" text-anchor="end" fill="#000" textLength="5.25" lengthAdjust="spacingAndGlyphs" >0</text>
<line x1="71.60" y1="894.68" x2="76.10" y2="894.68" stroke="#000" stroke-width="1.7" stroke-linecap="butt"/>
<text x="70.30" y="897.68" font-size="10.3" font-weight="bold" text-anchor="end" fill="#000" textLength="10.80" lengthAdjust="spacingAndGlyphs" >50</text>
<line x1="71.60" y1="848.15" x2="76.10" y2="848.15" stroke="#000" stroke-width="1.7" stroke-linecap="butt"/>
<text x="70.30" y="851.15" font-size="10.3" font-weight="bold" text-anchor="end" fill="#000" textLength="16.35" lengthAdjust="spacingAndGlyphs" >100</text>
<line x1="71.60" y1="801.62" x2="76.10" y2="801.62" stroke="#000" stroke-width="1.7" stroke-linecap="butt"/>
<text x="70.30" y="804.62" font-size="10.3" font-weight="bold" text-anchor="end" fill="#000" textLength="16.35" lengthAdjust="spacingAndGlyphs" >150</text>
<line x1="71.60" y1="755.10" x2="76.10" y2="755.10" stroke="#000" stroke-width="1.7" stroke-linecap="butt"/>
<text x="70.30" y="758.10" font-size="10.3" font-weight="bold" text-anchor="end" fill="#000" textLength="16.35" lengthAdjust="spacingAndGlyphs" >200</text>
<line x1="75.20" y1="941.20" x2="373.60" y2="941.20" stroke="#000" stroke-width="1.8" stroke-linecap="butt"/>
<line x1="113.75" y1="941.20" x2="113.75" y2="945.90" stroke="#000" stroke-width="1.6" stroke-linecap="butt"/>
<text x="112.90" y="955.10" font-size="9.6" font-weight="bold" text-anchor="middle" fill="#000" textLength="36.50" lengthAdjust="spacingAndGlyphs" >Control</text>
<line x1="188.75" y1="941.20" x2="188.75" y2="945.90" stroke="#000" stroke-width="1.6" stroke-linecap="butt"/>
<text x="187.80" y="955.10" font-size="9.6" font-weight="bold" text-anchor="middle" fill="#000" textLength="20.80" lengthAdjust="spacingAndGlyphs" >EcN</text>
<line x1="262.75" y1="941.20" x2="262.75" y2="945.90" stroke="#000" stroke-width="1.6" stroke-linecap="butt"/>
<text x="262.70" y="955.10" font-size="9.6" font-weight="bold" text-anchor="middle" fill="#000" textLength="22.20" lengthAdjust="spacingAndGlyphs" >LGG</text>
<line x1="337.75" y1="941.20" x2="337.75" y2="945.90" stroke="#000" stroke-width="1.6" stroke-linecap="butt"/>
<text x="336.70" y="955.10" font-size="9.6" font-weight="bold" text-anchor="middle" fill="#000" textLength="49.60" lengthAdjust="spacingAndGlyphs" >EcN+LGG</text>
<text x="46.90" y="850.90" font-size="9.8" font-weight="bold" text-anchor="middle" fill="#000" textLength="147.50" lengthAdjust="spacingAndGlyphs" transform="rotate(-90 46.90 850.90)" >Total IgA antibody level (µg/ml)</text>
<rect x="355.65" y="735.65" width="15.10" height="5.30" rx="1" fill="#fff" stroke="#000" stroke-width="2.5"/>
<text x="379.00" y="741.50" font-size="10.0" font-weight="normal" text-anchor="start" fill="#262626" >Mock</text>
<rect x="355.65" y="752.20" width="15.10" height="5.30" rx="1" fill="#000" stroke="#000" stroke-width="2.5"/>
<text x="379.00" y="758.05" font-size="10.0" font-weight="normal" text-anchor="start" fill="#262626" >IL-6 protein</text>
<rect x="355.65" y="768.75" width="15.10" height="5.30" rx="1" fill="url(#stripe)" stroke="#000" stroke-width="2.5"/>
<text x="379.00" y="774.60" font-size="10.0" font-weight="normal" text-anchor="start" fill="#262626" >IL-10 protein</text>
<rect x="355.65" y="785.30" width="15.10" height="5.30" rx="1" fill="url(#dots)" stroke="#000" stroke-width="2.5"/>
<text x="379.00" y="791.15" font-size="10.0" font-weight="normal" text-anchor="start" fill="#262626" >IL-6+IL-10 proteins</text>
</svg>
</body></html>
